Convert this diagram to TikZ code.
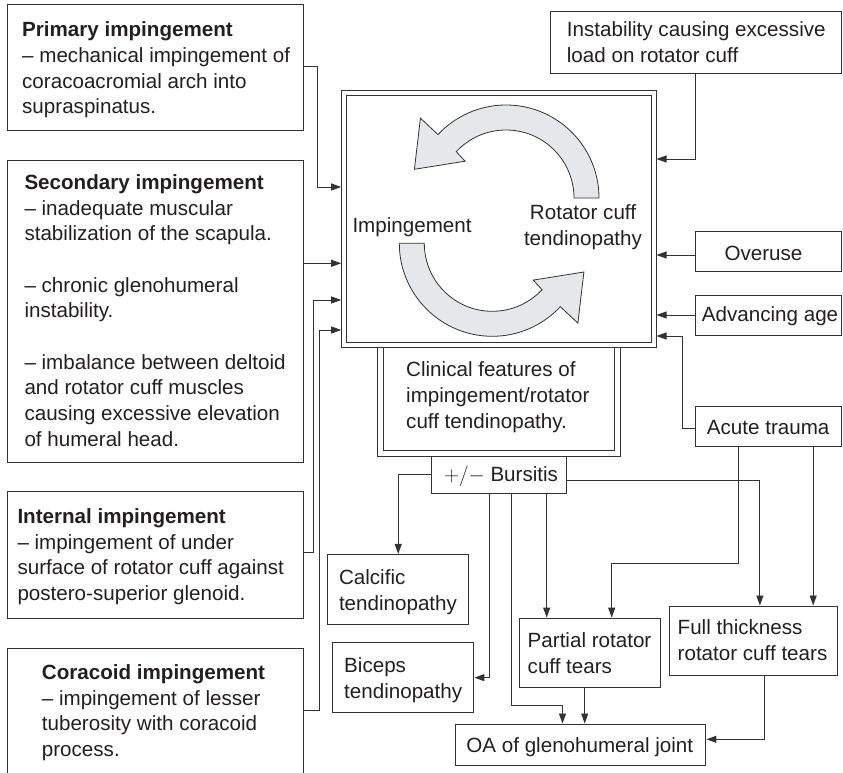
\documentclass[tikz,border=0pt]{standalone}
\usepackage{fontspec}
\setmainfont{Liberation Sans}
\usetikzlibrary{arrows.meta,fit,calc}
\definecolor{linec}{HTML}{333333}
\definecolor{txtc}{HTML}{231F20}
\definecolor{cycfill}{HTML}{E6E7E8}
\begin{document}
\begin{tikzpicture}[x=1pt,y=-1pt,
  box/.style={draw=linec,line width=1pt,inner sep=0pt},
  ghost/.style={draw=none,inner sep=0pt},
  txt/.style={anchor=base west,align=left,inner sep=0pt,text=txtc,
    font=\fontsize{20.6pt}{25.7pt}\selectfont},
  ctxt/.style={anchor=base,align=center,inner sep=0pt,text=txtc,
    font=\fontsize{20.6pt}{25.7pt}\selectfont},
  arr/.style={draw=linec,line width=0.9pt,-{Triangle[length=10pt,width=7pt]}},
  cyc/.style={draw=linec,line width=0.8pt,fill=cycfill,line join=miter}]
\useasboundingbox (0,0) rectangle (843,773);

% left boxes
\node[box,fit={(7,5) (303,131)}] (prim) {};
\node[box,fit={(7,160.7) (303,462.3)}] (sec) {};
\node[box,fit={(7,491.7) (303,618.3)}] (int) {};
\node[box,fit={(7,648.3) (303,800)}] (cor) {};
% right boxes
\node[box,fit={(550.7,11.7) (841.5,74)}] (inst) {};
\node[box,fit={(695,231.7) (841.5,271.7)}] (over) {};
\node[box,fit={(695,295) (841.5,335)}] (age) {};
\node[box,fit={(695,406.7) (841.5,446.7)}] (acute) {};
% main box
\node[box,fit={(341.7,90.7) (656,347.3)}] (main) {};
\draw[draw=linec,line width=1pt] ([shift={(5,5)}]main.north west) rectangle ([shift={(-5,-5)}]main.south east);
% clinical box
\node[ghost,fit={(377.3,347.3) (620,456)}] (clin) {};
\draw[draw=linec,line width=1pt] (clin.north west) |- (clin.south east) -- (clin.north east);
\draw[draw=linec,line width=1pt] ([xshift=6pt]clin.north west) |- ([shift={(-5.7,-6)}]clin.south east) -- ([xshift=-5.7pt]clin.north east);
% lower boxes
\node[box,fit={(431,456) (566,493.3)}] (burs) {};
\node[box,fit={(327.7,554.4) (468.7,624.3)}] (calc) {};
\node[box,fit={(332.2,642.7) (473.9,712.6)}] (bic) {};
\node[box,fit={(519.2,618.1) (660.2,687.7)}] (part) {};
\node[box,fit={(669.2,606) (837.5,675.6)}] (full) {};
\node[box,fit={(455.8,724) (705.9,765.3)}] (oa) {};

% texts (anchored at the baseline of their last line)
\node[txt] (primt) at (22,113.8) {\textbf{Primary impingement}\\– mechanical impingement of\\coracoacromial arch into\\supraspinatus.};
\node[txt] (sect) at (24.3,446.3) {\textbf{Secondary impingement}\\– inadequate muscular\\stabilization of the scapula.\\\mbox{}\\– chronic glenohumeral\\instability.\\\mbox{}\\– imbalance between deltoid\\and rotator cuff muscles\\causing excessive elevation\\of humeral head.};
\node[txt] (intt) at (17.3,600.4) {\textbf{Internal impingement}\\– impingement of under\\surface of rotator cuff against\\postero-superior glenoid.};
\node[txt] (cort) at (41.7,756.4) {\textbf{Coracoid impingement}\\– impingement of lesser\\tuberosity with coracoid\\process.};
\node[txt] (instt) at (566.7,62.4) {Instability causing excessive\\load on rotator cuff};
\node[txt] (overt) at (724.3,260) {Overuse};
\node[txt] (aget) at (701.7,321.7) {Advancing age};
\node[txt] (acutet) at (706.7,434.3) {Acute trauma};
\node[txt] (impt) at (352.3,232.7) {Impingement};
\node[ctxt] (rctt) at (583,245) {Rotator cuff\\tendinopathy};
\node[txt] (clint) at (406,428.1) {Clinical features of\\impingement/rotator\\cuff tendinopathy.};
\node[txt] (burst) at (444,481.7) {${+}/{-}$ Bursitis};
\node[txt] (calct) at (338.8,610.2) {Calcific\\tendinopathy};
\node[txt] (bict) at (344,698.5) {Biceps\\tendinopathy};
\node[txt] (partt) at (527.5,673.2) {Partial rotator\\cuff tears};
\node[txt] (fullt) at (677.5,660.4) {Full thickness\\rotator cuff tears};
\node[txt] (oat) at (466.2,752.5) {OA of glenohumeral joint};

% cycle arrows
\begin{scope}[shift={(506,198)},yscale=-1]
\draw[cyc] (0:68) -- (0:93) arc[start angle=0,end angle=137,radius=93] -- (137:117) -- (162.6:96) -- (138:55) -- (137:68) arc[start angle=137,end angle=0,radius=68] -- cycle;
\end{scope}
\begin{scope}[shift={(492.3,243.3)},yscale=-1,rotate=180]
\draw[cyc] (0:68) -- (0:93) arc[start angle=0,end angle=137,radius=93] -- (137:117) -- (162.6:96) -- (138:55) -- (137:68) arc[start angle=137,end angle=0,radius=68] -- cycle;
\end{scope}

% left connectors
\draw[arr] (prim.east |- 0,66.7) -- ++(13.7,0) |- (main.west |- 0,187);
\draw[arr] (sec.east |- 0,263.3) -- (main.west |- 0,263.3);
\draw[arr] (int.east |- 0,552.7) -- ++(9.7,0) |- (main.west |- 0,300);
\draw[arr] (cor.east |- 0,710) -- ++(16.3,0) |- (main.west |- 0,330);
% right connectors
\draw[arr] (inst.south -| 695,0) |- (main.east |- 0,159);
\draw[arr] (over.west |- 0,255) -- (main.east |- 0,255);
\draw[arr] (age.west) -- (main.east |- age.west);
\draw[arr] (acute.west |- 0,428.3) -- ++(-12.3,0) |- (main.east |- 0,336);
% lower connectors
\draw[arr] (burs.west) -| (calc.north);
\draw[arr] (burs.south -| 489.3,0) |- (bic.east);
\draw[arr] (burs.south -| 511.7,0) -- ++(0,211.4) -| (oa.north -| 562.5,0);
\draw[arr] (burs.south -| 546.7,0) -- (part.north -| 546.7,0);
\draw[arr] (burs.east |- 0,480) -| (full.north -| 759.9,0);
\draw[arr] (acute.south -| 738.1,0) -- ++(0,116.3) -| (part.north -| 611.7,0);
\draw[arr] (acute.south -| 813.2,0) -- (full.north -| 813.2,0);
\draw[arr] (part.south -| 584.7,0) -- (oa.north -| 584.7,0);
\draw[arr] (full.south -| 764,0) |- (oa.east |- 0,739.3);
\end{tikzpicture}
\end{document}
